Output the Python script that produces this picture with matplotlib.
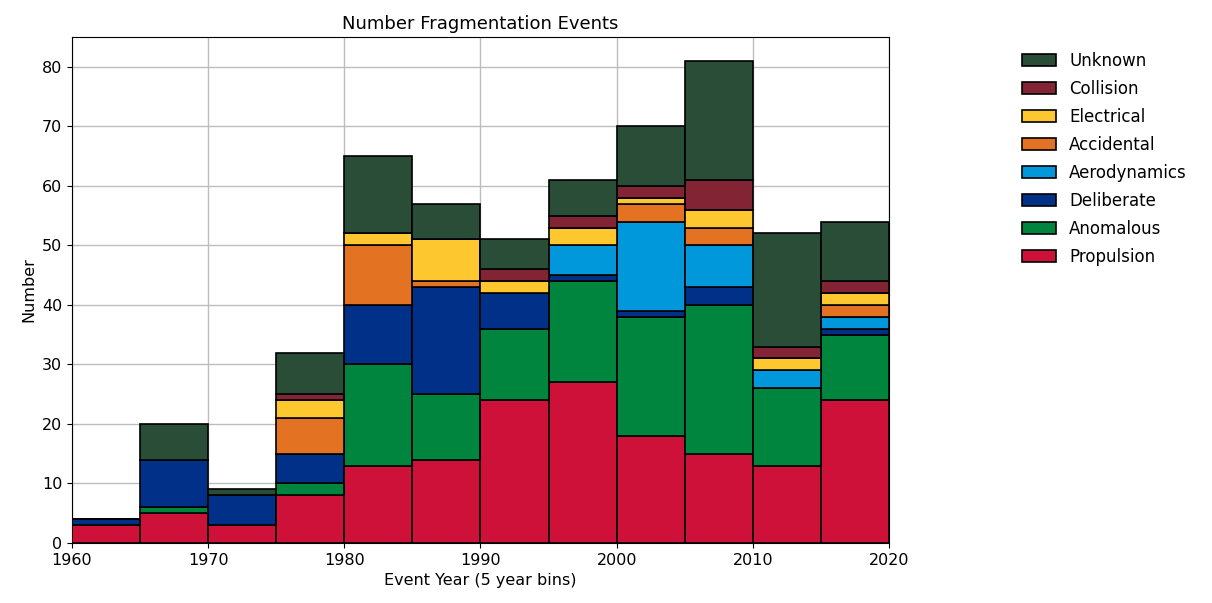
import numpy as np
import matplotlib.pyplot as plt

# 5 year bins
bin_starts = [1960, 1965, 1970, 1975, 1980, 1985, 1990, 1995, 2000, 2005, 2010, 2015]

propulsion   = [3, 5, 3, 8, 13, 14, 24, 27, 18, 15, 13, 24]
anomalous    = [0, 1, 0, 2, 17, 11, 12, 17, 20, 25, 13, 11]
deliberate   = [1, 8, 5, 5, 10, 18, 6, 1, 1, 3, 0, 1]
aerodynamics = [0, 0, 0, 0, 0, 0, 0, 5, 15, 7, 3, 2]
accidental   = [0, 0, 0, 6, 10, 1, 0, 0, 3, 3, 0, 2]
electrical   = [0, 0, 0, 3, 2, 7, 2, 3, 1, 3, 2, 2]
collision    = [0, 0, 0, 1, 0, 0, 2, 2, 2, 5, 2, 2]
unknown      = [0, 6, 1, 7, 13, 6, 5, 6, 10, 20, 19, 10]

series = [
    ('Propulsion', propulsion, '#CE1139'),
    ('Anomalous', anomalous, '#00853F'),
    ('Deliberate', deliberate, '#003087'),
    ('Aerodynamics', aerodynamics, '#0098DB'),
    ('Accidental', accidental, '#E37222'),
    ('Electrical', electrical, '#FDC82F'),
    ('Collision', collision, '#822433'),
    ('Unknown', unknown, '#294D36'),
]

fig = plt.figure(figsize=(12.12, 6.03), dpi=100)
ax = fig.add_axes([0.0594, 0.0995, 0.6741, 0.8391])

bottom = np.zeros(len(bin_starts))
for name, vals, color in series:
    vals = np.array(vals)
    ax.bar(bin_starts, vals, width=5, bottom=bottom, align='edge',
           color=color, edgecolor='black', linewidth=1.2, label=name, zorder=3)
    bottom += vals

ax.set_xlim(1960, 2020)
ax.set_ylim(0, 85)
ax.set_xticks(range(1960, 2021, 10))
ax.set_yticks(range(0, 81, 10))
ax.grid(True, color='#bdbdbd', linewidth=1, zorder=0)
ax.tick_params(labelsize=11.5)

ax.set_title('Number Fragmentation Events', fontsize=13)
ax.set_xlabel('Event Year (5 year bins)', fontsize=11.5)
ax.set_ylabel('Number', fontsize=11.5)

handles, labels = ax.get_legend_handles_labels()
ax.legend(handles[::-1], labels[::-1], loc='upper left', bbox_to_anchor=(1.145, 1.0),
          frameon=False, fontsize=12, handlelength=2.0, handleheight=0.75,
          labelspacing=0.6)

fig.savefig('out.png', dpi=100)
